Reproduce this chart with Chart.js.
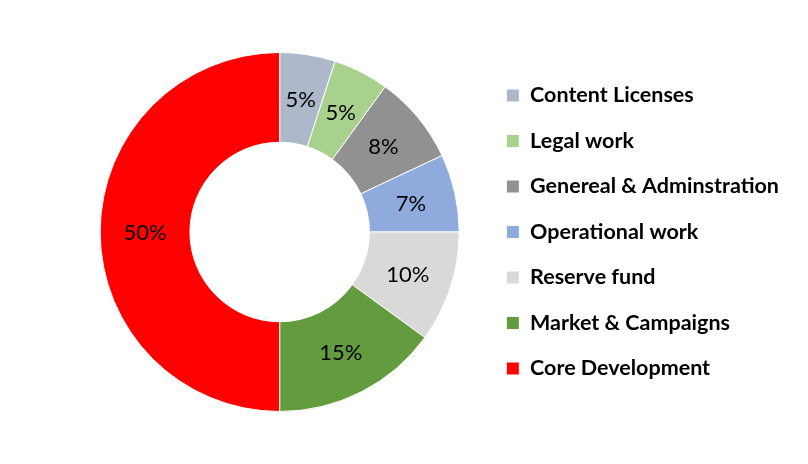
<!DOCTYPE html>
<html>
<head>
<meta charset="utf-8">
<script src="https://cdn.jsdelivr.net/npm/chart.js@4"></script>
<style>
  html, body { margin: 0; padding: 0; background: #fff; }
  #wrap { width: 808px; height: 464px; }
</style>
</head>
<body>
<div id="wrap"><canvas id="budget"></canvas></div>
<script>
// BUDGET DOUGHNUT
const categories = [
  "Content Licenses",
  "Legal work",
  "Genereal & Adminstration",
  "Operational work",
  "Reserve fund",
  "Market & Campaigns",
  "Core Development",
];
const shares = [5, 5, 8, 7, 10, 15, 50];
const sliceColors = ["#adb9ca", "#a9d18e", "#919191", "#8faadc", "#d9d9d9", "#639b3f", "#ff0000"];

// percent labels in the middle of each slice
const sliceLabels = {
  id: "sliceLabels",
  afterDatasetsDraw(chart) {
    const ctx = chart.ctx;
    const meta = chart.getDatasetMeta(0);
    ctx.save();
    ctx.font = "22px Lato";
    ctx.fillStyle = "#000";
    ctx.textAlign = "center";
    ctx.textBaseline = "middle";
    meta.data.forEach((arc, i) => {
      const pos = arc.tooltipPosition();
      ctx.fillText(shares[i] + "%", pos.x, pos.y + 1);
    });
    ctx.restore();
  },
};

const budgetConfig = {
  type: "doughnut",
  data: {
    labels: categories,
    datasets: [
      {
        data: shares,
        backgroundColor: sliceColors,
        borderColor: "#fff",
        borderWidth: 1,
      },
    ],
  },
  options: {
    responsive: false,
    animation: false,
    cutout: "50%",
    layout: { padding: { left: 77, top: 52, bottom: 52, right: 19 } },
    plugins: {
      tooltip: { enabled: false },
      legend: {
        position: "right",
        labels: {
          boxWidth: 13,
          boxHeight: 13,
          padding: 24,
          color: "#000",
          font: { family: "Lato", size: 21.5, weight: "bold" },
        },
      },
    },
  },
  plugins: [sliceLabels],
};

const budgetCanvas = document.getElementById("budget");
budgetCanvas.width = 808;
budgetCanvas.height = 464;
const budgetChart = new Chart(budgetCanvas.getContext("2d"), budgetConfig);
</script>
</body>
</html>
